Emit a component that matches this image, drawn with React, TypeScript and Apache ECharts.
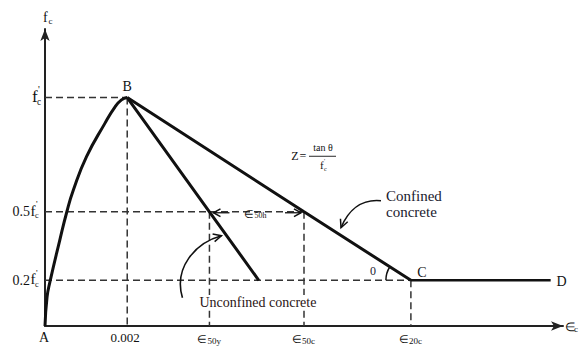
import { useEffect, useRef } from "react";
import * as echarts from "echarts";

// Strain on x, stress as a fraction of f'c on y
const strainMax = 0.0126;
const stressMax = 1.3;

const peakStrain = 0.002;
const ascendingStrain = [0, 0.00005, 0.00012, 0.00036, 0.00053, 0.00069, 0.00101, 0.00146, 0.0017, 0.00186, 0.002];
const ascendingStress = [0, 0.127, 0.193, 0.376, 0.499, 0.595, 0.741, 0.888, 0.958, 0.99, 1];

const unconfinedStrain = [0.002, 0.004, 0.0052];
const unconfinedStress = [1, 0.5, 0.2];

const confinedStrain = [0.002, 0.0063, 0.0089];
const confinedStress = [1, 0.5, 0.2];

const plateauStrain = [0.0089, 0.0123];
const plateauStress = [0.2, 0.2];

const stressLevels = [1, 0.5, 0.2];
const stressLevelPrefix = ["", "0.5", "0.2"];

const strainMarks = [0, 0.002, 0.004, 0.0063, 0.0089];
const strainMarkText = ["A", "0.002", "∈", "∈", "∈"];
const strainMarkSub = ["", "", "50y", "50c", "20c"];

const SERIF = "Liberation Serif";
const INK = "#111";

const zip = (xs: number[], ys: number[]) => xs.map((x, i) => [x, ys[i]]);

export default function App() {
  const ref = useRef<HTMLDivElement>(null);

  useEffect(() => {
    if (!ref.current) return;
    const chart = echarts.init(ref.current, undefined, { renderer: "svg" });

    const eps50u = unconfinedStrain[1];
    const eps50c = confinedStrain[1];
    const eps20c = confinedStrain[2];

    const guides = [
      [[0, stressLevels[0]], [peakStrain, stressLevels[0]]],
      [[peakStrain, stressLevels[0]], [peakStrain, 0]],
      [[0, stressLevels[1]], [eps50c, stressLevels[1]]],
      [[eps50u, stressLevels[1]], [eps50u, 0]],
      [[eps50c, stressLevels[1]], [eps50c, 0]],
      [[0, stressLevels[2]], [eps20c, stressLevels[2]]],
      [[eps20c, stressLevels[2]], [eps20c, 0]],
    ];

    const solid = (data: number[][], width: number, extra: any = {}) => ({
      type: "line",
      data,
      showSymbol: false,
      silent: true,
      z: 5,
      lineStyle: { color: INK, width },
      ...extra,
    });

    chart.setOption({
      animation: false,
      backgroundColor: "#fff",
      textStyle: { fontFamily: SERIF },
      grid: { left: 45, right: 24, top: 29, bottom: 24 },
      xAxis: {
        type: "value",
        min: 0,
        max: strainMax,
        axisLine: {
          show: true,
          symbol: ["none", "arrow"],
          symbolSize: [7, 12],
          lineStyle: { color: "#222", width: 2 },
        },
        axisTick: { show: false },
        axisLabel: { show: false },
        splitLine: { show: false },
      },
      yAxis: {
        type: "value",
        min: 0,
        max: stressMax,
        axisLine: {
          show: true,
          symbol: ["none", "arrow"],
          symbolSize: [7, 12],
          lineStyle: { color: "#222", width: 2 },
        },
        axisTick: { show: false },
        axisLabel: { show: false },
        splitLine: { show: false },
      },
      series: [
        ...guides.map((g) => ({
          type: "line",
          data: g,
          showSymbol: false,
          silent: true,
          z: 2,
          lineStyle: { color: "#333", width: 1.5, type: [7, 4] },
        })),
        solid(zip(ascendingStrain, ascendingStress), 3, { smooth: 0.5 }),
        solid(zip(unconfinedStrain, unconfinedStress), 3),
        solid(zip(confinedStrain, confinedStress), 3),
        solid(zip(plateauStrain, plateauStress), 2.5),
      ],
    });

    const P = (x: number, y: number) => chart.convertToPixel({ gridIndex: 0 }, [x, y]) as number[];

    const T = (text: string, x: number, y: number, size: number, opts: any = {}) => ({
      type: "text",
      x,
      y,
      silent: true,
      z: 10,
      style: {
        text,
        fontSize: size,
        fontFamily: opts.family || SERIF,
        fill: opts.fill || INK,
        align: opts.align || "center",
        verticalAlign: opts.va || "middle",
        backgroundColor: opts.bg,
        padding: opts.pad,
      },
    });

    // f'c glyph group: f with a prime above and a subscript c
    const fPrime = (x: number, y: number, size: number) => [
      T("f", x, y, size, { align: "left" }),
      T("'", x + size * 0.36, y - size * 0.42, size * 0.6, { align: "left" }),
      T("c", x + size * 0.3, y + size * 0.34, size * 0.55, { align: "left" }),
    ];

    const head = (tip: number[], from: number[], len = 7, spread = 0.45) => {
      const dx = from[0] - tip[0];
      const dy = from[1] - tip[1];
      const d = Math.hypot(dx, dy) || 1;
      const ux = dx / d;
      const uy = dy / d;
      const rot = (a: number) => [
        tip[0] + len * (ux * Math.cos(a) - uy * Math.sin(a)),
        tip[1] + len * (ux * Math.sin(a) + uy * Math.cos(a)),
      ];
      return {
        type: "polyline",
        silent: true,
        z: 10,
        shape: { points: [rot(spread), tip, rot(-spread)] },
        style: { stroke: INK, lineWidth: 1.5, fill: "none" },
      };
    };

    const elements: any[] = [];

    // y-axis title and stress levels
    const top = P(0, stressMax);
    elements.push(T("f", top[0] - 2, top[1] - 12, 14, { align: "left" }));
    elements.push(T("c", top[0] + 3.5, top[1] - 8, 9, { align: "left" }));

    stressLevels.forEach((lv, i) => {
      const p = P(0, lv);
      if (stressLevelPrefix[i]) {
        elements.push(T(stressLevelPrefix[i], p[0] - 15, p[1], 14, { align: "right" }));
        elements.push(...fPrime(p[0] - 14.5, p[1] - 1, 15));
      } else {
        elements.push(...fPrime(p[0] - 13, p[1] - 1, 17));
      }
    });

    // strain marks under the x-axis
    strainMarks.forEach((m, i) => {
      const p = P(m, 0);
      if (strainMarkSub[i]) {
        elements.push(T(strainMarkText[i], p[0] - 12, p[1] + 13, 11, { align: "left" }));
        elements.push(T(strainMarkSub[i], p[0] - 2, p[1] + 15, 9, { align: "left" }));
      } else {
        elements.push(T(strainMarkText[i], p[0] - (i === 0 ? 1 : 2), p[1] + 11, i === 0 ? 14 : 13));
      }
    });

    // x-axis title
    const xEnd = P(strainMax, 0);
    elements.push(T("∈", xEnd[0] + 2, xEnd[1] + 1, 12, { align: "left" }));
    elements.push(T("c", xEnd[0] + 11, xEnd[1] + 3, 9, { align: "left" }));

    // point labels
    const B = P(peakStrain, 1);
    const C = P(eps20c, confinedStress[2]);
    const D = P(plateauStrain[1], plateauStress[1]);
    elements.push(T("B", B[0], B[1] - 11, 14));
    elements.push(T("C", C[0] + 11, C[1] - 8, 14));
    elements.push(T("D", D[0] + 11, D[1] + 1, 14));

    // slope angle at C
    const slope = Math.atan2(C[1] - B[1], C[0] - B[0]);
    elements.push({
      type: "arc",
      silent: true,
      z: 10,
      shape: { cx: C[0], cy: C[1], r: 25, startAngle: Math.PI, endAngle: Math.PI + slope, clockwise: true },
      style: { stroke: INK, lineWidth: 1.5, fill: "none" },
    });
    elements.push(T("0", C[0] - 38, C[1] - 9, 12, { fill: "#223" }));

    // ε50h dimension between the two 0.5 f'c crossings
    const U = P(eps50u, 0.5);
    const K = P(eps50c, 0.5);
    const lTip = [U[0] + 4, U[1] + 1];
    const lTail = [U[0] + 20, U[1] + 1];
    elements.push({
      type: "line",
      silent: true,
      z: 10,
      shape: { x1: lTail[0], y1: lTail[1], x2: lTip[0], y2: lTip[1] },
      style: { stroke: INK, lineWidth: 1.3 },
    });
    elements.push(head(lTip, lTail, 8, 0.5));
    const rTip = [K[0] - 3, K[1] + 1];
    const rTail = [K[0] - 19, K[1] + 1];
    elements.push({
      type: "line",
      silent: true,
      z: 10,
      shape: { x1: rTail[0], y1: rTail[1], x2: rTip[0], y2: rTip[1] },
      style: { stroke: INK, lineWidth: 1.3 },
    });
    elements.push(head(rTip, rTail, 8, 0.5));
    elements.push(T("∈", U[0] + 35, U[1] + 2, 11, { align: "left" }));
    elements.push(T("50h", U[0] + 45, U[1] + 4, 8, { align: "left" }));

    // Z = tanθ / f'c
    const F = [K[0] - 9, K[1] - 56];
    elements.push(T("Z", F[0], F[1], 12));
    elements.push(T("=", F[0] + 8, F[1], 12));
    elements.push({
      type: "line",
      silent: true,
      z: 10,
      shape: { x1: F[0] + 14, y1: F[1] + 0.5, x2: F[0] + 41, y2: F[1] + 0.5 },
      style: { stroke: INK, lineWidth: 0.9 },
    });
    elements.push(T("tan θ", F[0] + 28, F[1] - 8, 10));
    elements.push(T("f", F[0] + 25, F[1] + 9, 11, { align: "left" }));
    elements.push(T("'", F[0] + 29, F[1] + 5, 6, { align: "left" }));
    elements.push(T("c", F[0] + 29, F[1] + 13, 6, { align: "left" }));

    // Confined concrete callout
    elements.push(T("Confined", K[0] + 82, K[1] - 16, 15, { align: "left", fill: "#1a1a2e" }));
    elements.push(T("concrete", K[0] + 82, K[1], 15, { align: "left", fill: "#1a1a2e" }));
    const cs = [K[0] + 77, K[1] - 11];
    const ce = [K[0] + 37, K[1] + 16];
    const cc2 = [K[0] + 44, K[1] - 1];
    elements.push({
      type: "bezierCurve",
      silent: true,
      z: 10,
      shape: { x1: cs[0], y1: cs[1], cpx1: K[0] + 57, cpy1: K[1] - 13, cpx2: cc2[0], cpy2: cc2[1], x2: ce[0], y2: ce[1] },
      style: { stroke: INK, lineWidth: 1.6, fill: "none" },
    });
    elements.push(head(ce, cc2, 9, 0.45));

    // Unconfined concrete callout
    const O = P(0, 0);
    elements.push(
      T("Unconfined concrete", U[0] - 11, O[1] - 24, 14, { align: "left", bg: "#fff", pad: [0, 1], fill: "#2a1414" })
    );
    const us = [U[0] - 27, U[1] + 86];
    const ue = [U[0] + 12, U[1] + 24];
    const uc2 = [U[0] - 14, U[1] + 31];
    elements.push({
      type: "bezierCurve",
      silent: true,
      z: 10,
      shape: { x1: us[0], y1: us[1], cpx1: U[0] - 36, cpy1: U[1] + 56, cpx2: uc2[0], cpy2: uc2[1], x2: ue[0], y2: ue[1] },
      style: { stroke: INK, lineWidth: 1.6, fill: "none" },
    });
    elements.push(head(ue, uc2, 9, 0.45));

    chart.setOption({ graphic: elements });

    return () => chart.dispose();
  }, []);

  return (
    <div
      ref={ref}
      style={{ position: "fixed", left: 0, top: 0, width: 587, height: 350, background: "#fff" }}
    />
  );
}
